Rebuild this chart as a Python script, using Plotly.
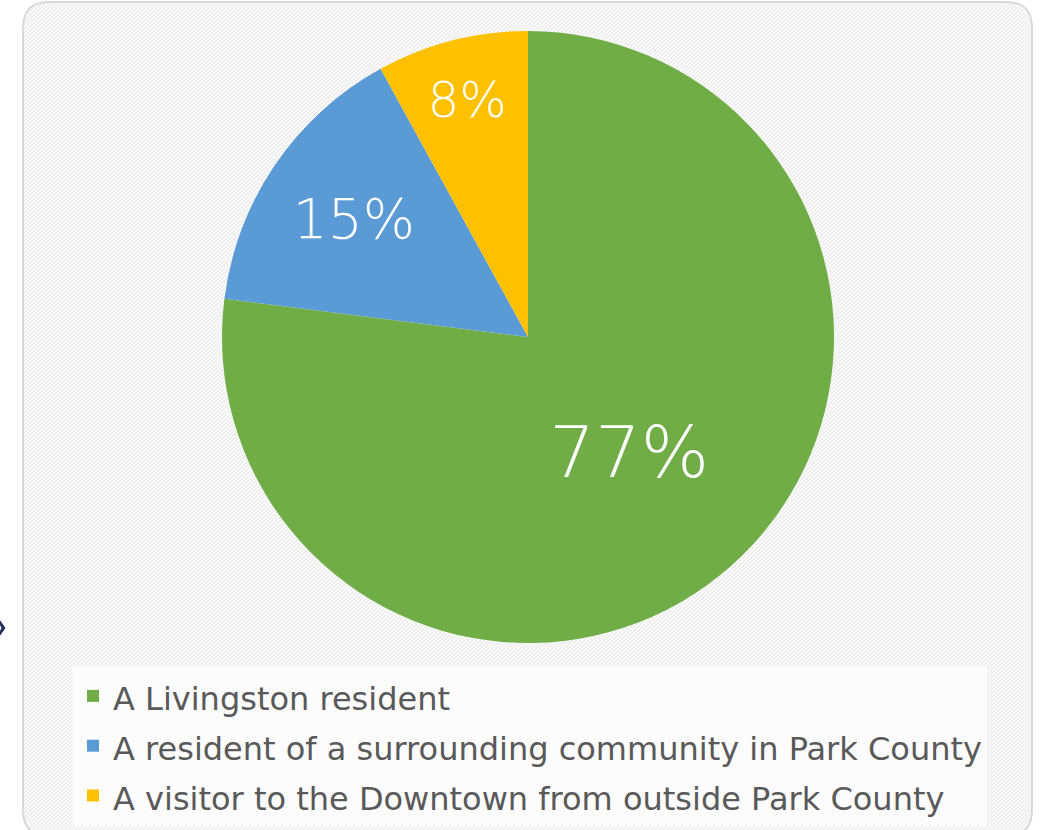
import base64
import plotly.graph_objects as go

categories = [
    "A Livingston resident",
    "A resident of a surrounding community in Park County",
    "A visitor to the Downtown from outside Park County",
]
values = [77, 15, 8]
colors = ["#70AD47", "#5B9BD5", "#FFC000"]
label_sizes = [72, 55, 50]

W, H = 1040, 830
LABEL_FONT = "DejaVu Sans"

legend_labels = [f'<span style="font-size:32px">{c}</span>' for c in categories]

fig = go.Figure(
    go.Pie(
        labels=legend_labels,
        values=values,
        sort=False,
        direction="clockwise",
        rotation=0,
        marker=dict(colors=colors, line=dict(width=0)),
        textinfo="percent",
        texttemplate="%{percent:.0%}",
        textposition="inside",
        insidetextorientation="horizontal",
        textfont=dict(color="white", size=label_sizes, family=LABEL_FONT, weight=200),
        domain=dict(x=[222 / W, 834 / W], y=[1 - 643 / H, 1 - 31 / H]),
        hoverinfo="percent",
    )
)

# panel geometry (pixels)
x0, x1, y0, y1, r = 23, 1032, 2, 836, 26
pw, ph = x1 - x0, y1 - y0

svg = f'''<svg xmlns="http://www.w3.org/2000/svg" width="{pw}" height="{ph}" viewBox="0 0 {pw} {ph}" preserveAspectRatio="none">
<defs><pattern id="p" patternUnits="userSpaceOnUse" width="4" height="4">
<rect width="4" height="4" fill="#ffffff"/>
<path d="M-1,1 l2,-2 M0,4 l4,-4 M3,5 l2,-2" stroke="#e9e9e9" stroke-width="1.3"/>
</pattern></defs>
<rect x="0" y="0" width="{pw}" height="{ph}" rx="{r}" ry="{r}" fill="url(#p)"/>
</svg>'''
svg_uri = "data:image/svg+xml;base64," + base64.b64encode(svg.encode()).decode()

path = (
    f"M {x0+r},{y0} L {x1-r},{y0} Q {x1},{y0} {x1},{y0+r} "
    f"L {x1},{y1-r} Q {x1},{y1} {x1-r},{y1} L {x0+r},{y1} "
    f"Q {x0},{y1} {x0},{y1-r} L {x0},{y0+r} Q {x0},{y0} {x0+r},{y0} Z"
)


def px_path(p):
    out = []
    for tok in p.split():
        if "," in tok:
            a, b = tok.split(",")
            out.append(f"{float(a)/W:.5f},{1-float(b)/H:.5f}")
        else:
            out.append(tok)
    return " ".join(out)


fig.update_layout(
    width=W,
    height=H,
    margin=dict(l=0, r=0, t=0, b=0),
    paper_bgcolor="white",
    plot_bgcolor="white",
    showlegend=True,
    legend=dict(
        x=73 / W,
        y=4 / H,
        xanchor="left",
        yanchor="bottom",
        bgcolor="rgba(253,253,253,0.9)",
        font=dict(size=36, color="#595959", family=LABEL_FONT),
        itemwidth=30,
        traceorder="normal",
    ),
    images=[
        dict(
            source=svg_uri,
            xref="paper",
            yref="paper",
            x=x0 / W,
            y=1 - y0 / H,
            sizex=pw / W,
            sizey=ph / H,
            xanchor="left",
            yanchor="top",
            sizing="stretch",
            layer="below",
        )
    ],
    shapes=[
        dict(
            type="path",
            xref="paper",
            yref="paper",
            path=px_path(path),
            fillcolor="rgba(0,0,0,0)",
            line=dict(color="#d9d9d9", width=2),
            layer="below",
        ),
        dict(
            type="path",
            xref="paper",
            yref="paper",
            path=px_path("M 0,621 L 5,628 L 0,635 L 0,632 L 2,628 L 0,624 Z"),
            fillcolor="#1f2d5a",
            line=dict(color="#1f2d5a", width=1),
        ),
    ],
)

fig.write_html("out.html")
